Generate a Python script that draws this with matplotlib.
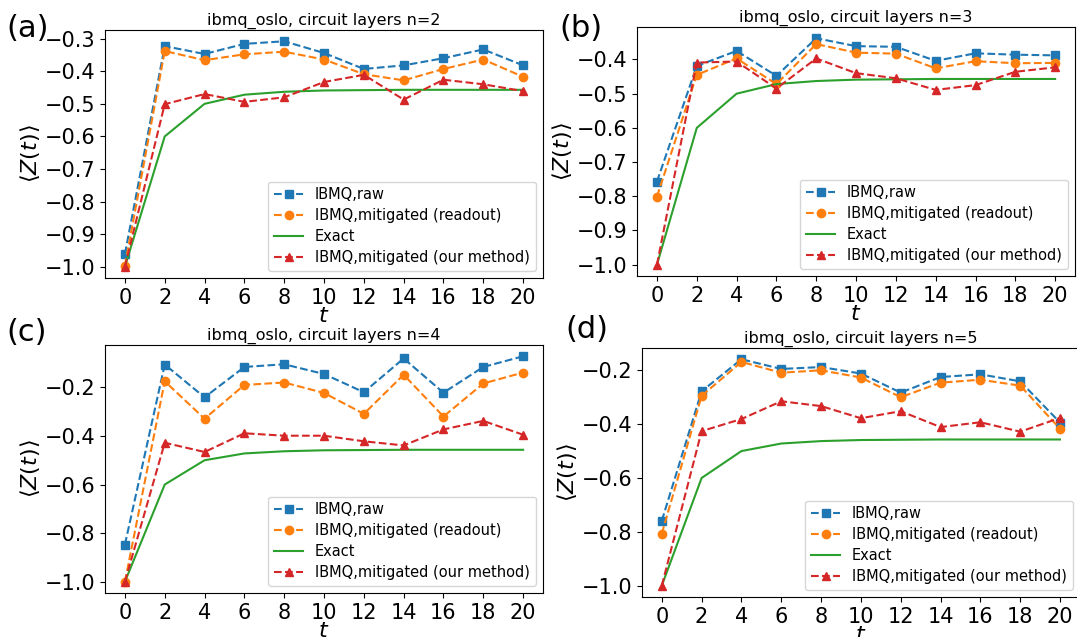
import matplotlib
matplotlib.use("Agg")
import matplotlib.pyplot as plt
import numpy as np

t = np.arange(0, 21, 2)

# exact curve (same in every panel)
exact = [-1.0, -0.600, -0.500, -0.472, -0.463, -0.459, -0.458, -0.457, -0.457, -0.457, -0.457]

# panel (a), n=2
raw_a = [-0.961, -0.323, -0.347, -0.316, -0.308, -0.344, -0.393, -0.382, -0.360, -0.333, -0.382]
readout_a = [-0.997, -0.338, -0.366, -0.348, -0.340, -0.364, -0.409, -0.428, -0.393, -0.364, -0.417]
ours_a = [-1.0, -0.501, -0.470, -0.494, -0.480, -0.433, -0.411, -0.487, -0.426, -0.440, -0.461]

# panel (b), n=3
raw_b = [-0.757, -0.419, -0.375, -0.448, -0.338, -0.361, -0.363, -0.404, -0.382, -0.386, -0.388]
readout_b = [-0.801, -0.445, -0.397, -0.472, -0.355, -0.380, -0.383, -0.426, -0.405, -0.411, -0.410]
ours_b = [-1.0, -0.409, -0.406, -0.485, -0.397, -0.440, -0.455, -0.489, -0.475, -0.436, -0.423]

# panel (c), n=4
raw_c = [-0.847, -0.106, -0.241, -0.116, -0.105, -0.145, -0.220, -0.081, -0.222, -0.116, -0.072]
readout_c = [-1.0, -0.175, -0.329, -0.190, -0.180, -0.223, -0.309, -0.148, -0.320, -0.184, -0.139]
ours_c = [-1.0, -0.428, -0.466, -0.389, -0.399, -0.399, -0.422, -0.439, -0.373, -0.338, -0.395]

# panel (d), n=5
raw_d = [-0.759, -0.278, -0.159, -0.195, -0.188, -0.212, -0.283, -0.225, -0.215, -0.241, -0.394]
readout_d = [-0.807, -0.295, -0.169, -0.209, -0.200, -0.227, -0.300, -0.246, -0.235, -0.257, -0.417]
ours_d = [-1.0, -0.426, -0.381, -0.315, -0.333, -0.378, -0.352, -0.411, -0.393, -0.428, -0.377]

yticks_a = [-1.0, -0.9, -0.8, -0.7, -0.6, -0.5, -0.4, -0.3]
yticks_b = [-1.0, -0.9, -0.8, -0.7, -0.6, -0.5, -0.4]
yticks_c = [-1.0, -0.8, -0.6, -0.4, -0.2]
yticks_d = [-1.0, -0.8, -0.6, -0.4, -0.2]

panels = [
    ("(a)", 2, raw_a, readout_a, ours_a, yticks_a),
    ("(b)", 3, raw_b, readout_b, ours_b, yticks_b),
    ("(c)", 4, raw_c, readout_c, ours_c, yticks_c),
    ("(d)", 5, raw_d, readout_d, ours_d, yticks_d),
]

boxes = [
    [0.0975, 0.5636, 0.4067, 0.3893],
    [0.5915, 0.5667, 0.4067, 0.3910],
    [0.0975, 0.0691, 0.4067, 0.3893],
    [0.5960, 0.0628, 0.4067, 0.3910],
]
label_pos = [(0.006, 0.955), (0.519, 0.955), (0.006, 0.478), (0.525, 0.483)]

fig = plt.figure(figsize=(10.77, 6.37), dpi=100)

for (lab, n, raw, readout, ours, yt), box, lp in zip(panels, boxes, label_pos):
    ax = fig.add_axes(box)
    ax.plot(t, raw, '--s', color='#1f77b4', markersize=6, label='IBMQ,raw')
    ax.plot(t, readout, '--o', color='#ff7f0e', markersize=6, label='IBMQ,mitigated (readout)')
    ax.plot(t, exact, '-', color='#2ca02c', label='Exact')
    ax.plot(t, ours, '--^', color='#d62728', markersize=6, label='IBMQ,mitigated (our method)')
    ax.set_xticks(t)
    ax.set_yticks(yt)
    ax.tick_params(labelsize=15)
    ax.set_xlabel('$t$', fontsize=16, labelpad=-1)
    ax.set_ylabel(r'$\langle Z(t)\rangle$', fontsize=16, labelpad=2)
    ax.set_title(f'ibmq_oslo, circuit layers n={n}', fontsize=11.5, pad=4)
    ax.legend(loc='lower right', fontsize=10.5, labelspacing=0.4)
    fig.text(lp[0], lp[1], lab, fontsize=22, va='center', ha='left')

fig.savefig('out.png', dpi=100)
